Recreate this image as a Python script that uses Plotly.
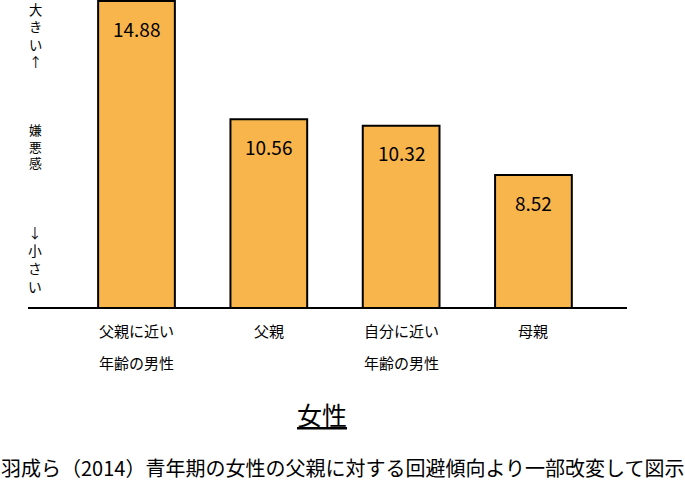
import plotly.graph_objects as go

line1 = ["父親に近い", "父親", "自分に近い", "母親"]
line2 = ["年齢の男性", "", "年齢の男性", ""]
values = [14.88, 10.56, 10.32, 8.52]
value_labels = ["14.88", "10.56", "10.32", "8.52"]
positions = [0, 1, 2, 3]
side_texts = ["大<br>き<br>い<br>↑", "嫌<br>悪<br>感", "↓<br>小<br>さ<br>い"]
side_y = [35, 146, 259]
side_size = [13.3, 12.8, 13.8]

CJK = "Noto Sans CJK JP"
W, H = 685, 483
L, R, T, B = 28, 58, 0, 175
pw, ph = W - L - R, H - T - B


def px(x):
    return (x - L) / pw


def py(y):
    return 1 - (y - T) / ph


fig = go.Figure()
fig.add_trace(go.Bar(
    x=positions, y=values, width=0.58,
    marker=dict(color="#F7B54C", line=dict(color="black", width=2)),
    hoverinfo="skip",
))

for xi, v, lab in zip(positions, values, value_labels):
    fig.add_annotation(x=xi, y=v, xref="x", yref="y", text=lab, showarrow=False,
                       xanchor="center", yanchor="middle", yshift=-27,
                       font=dict(family=CJK, size=19, color="black"))

for xi, a, b in zip(positions, line1, line2):
    fig.add_annotation(x=xi, y=py(330), xref="x", yref="paper", text=a, showarrow=False,
                       xanchor="center", yanchor="middle",
                       font=dict(family=CJK, size=15, color="black"))
    if b:
        fig.add_annotation(x=xi, y=py(362), xref="x", yref="paper", text=b, showarrow=False,
                           xanchor="center", yanchor="middle",
                           font=dict(family=CJK, size=15, color="black"))

for t, yy, fs in zip(side_texts, side_y, side_size):
    fig.add_annotation(x=px(35), y=py(yy), xref="paper", yref="paper", text=t, showarrow=False,
                       xanchor="center", yanchor="middle",
                       font=dict(family=CJK, size=fs, color="black"))

fig.add_annotation(x=px(322), y=py(414), xref="paper", yref="paper", text="<u>女性</u>",
                   showarrow=False, xanchor="center", yanchor="middle",
                   font=dict(family=CJK, size=25, color="black"))
fig.add_annotation(x=px(342), y=py(467), xref="paper", yref="paper",
                   text="羽成ら（2014）青年期の女性の父親に対する回避傾向より一部改変して図示",
                   showarrow=False, xanchor="center", yanchor="middle",
                   font=dict(family=CJK, size=20, color="black"))

fig.update_layout(
    width=W, height=H, margin=dict(l=L, r=R, t=T, b=B),
    paper_bgcolor="white", plot_bgcolor="white", showlegend=False,
    xaxis=dict(range=[-0.82, 3.707], tickvals=positions, showticklabels=False,
               showgrid=False, zeroline=False, showline=False),
    yaxis=dict(range=[3.66, 14.92], showticklabels=False, showgrid=False,
               zeroline=False, showline=False),
)
fig.add_shape(type="line", xref="paper", yref="paper", x0=0, x1=1, y0=0, y1=0,
              line=dict(color="black", width=2))
fig.write_html("out.html")
